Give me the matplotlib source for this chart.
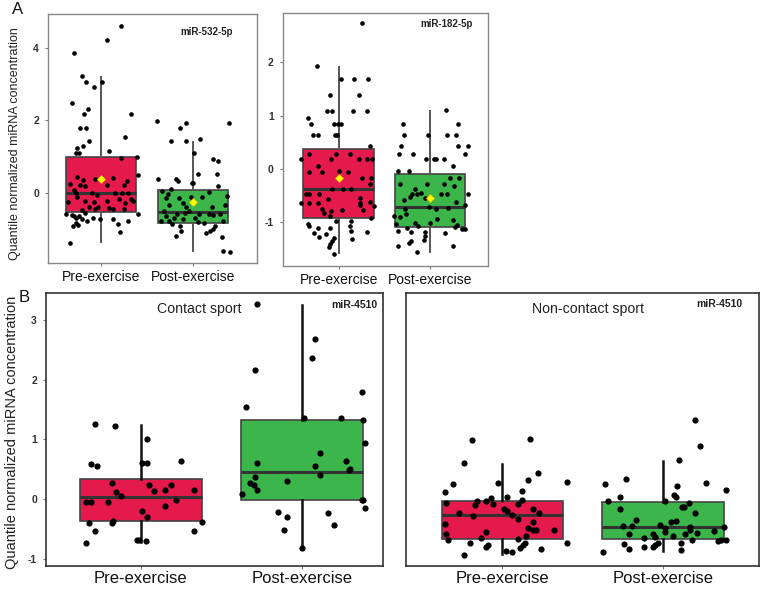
import numpy as np
import matplotlib.pyplot as plt

plt.rcParams['font.family'] = ['Liberation Sans', 'DejaVu Sans']

groups = ['Pre-exercise', 'Post-exercise']
RED = '#e31a4b'
GREEN = '#3cb54a'
YLABEL = 'Quantile normalized miRNA concentration'

# box stats: (whislo, q1, med, q3, whishi, mean)
box_532 = [(-1.37, -0.53, 0.00, 0.98, 3.21, 0.37),
           (-1.63, -0.83, -0.53, 0.07, 1.41, -0.25)]
box_182 = [(-1.58, -0.91, -0.375, 0.37, 1.92, -0.16),
           (-1.56, -1.08, -0.71, -0.09, 1.09, -0.55)]
box_contact = [(-0.715, -0.36, 0.03, 0.335, 1.24, None),
               (-0.80, -0.02, 0.45, 1.32, 3.25, None)]
box_noncontact = [(-0.92, -0.66, -0.27, -0.03, 0.58, None),
                  (-0.87, -0.67, -0.47, -0.055, 0.64, None)]

# jittered points: (horizontal jitter, value)
pts_532_pre = [(0.21, 4.63), (0.06, 4.24), (-0.29, 3.87), (-0.21, 3.22), (-0.16, 3.06),
               (-0.08, 2.92), (0.01, 3.07), (-0.32, 2.47), (0.32, 2.19), (-0.19, 2.19),
               (-0.14, 2.33), (-0.23, 1.79), (-0.16, 1.79), (0.26, 1.55), (-0.13, 1.43),
               (-0.20, 1.29), (-0.26, 1.24), (-0.27, 1.09), (-0.24, 1.09), (0.08, 1.15),
               (0.21, 0.96), (0.39, 0.98), (0.40, 0.48), (-0.26, 0.42), (-0.20, 0.36),
               (-0.07, 0.39), (0.13, 0.40), (0.28, 0.33), (-0.34, 0.24), (-0.23, 0.22),
               (-0.18, 0.18), (0.06, 0.22), (0.25, 0.22), (-0.29, 0.06), (-0.27, 0.00),
               (-0.10, 0.00), (-0.04, -0.08), (0.15, -0.01), (0.23, -0.01), (0.29, -0.01),
               (0.32, -0.19), (0.35, -0.23), (-0.36, -0.25), (-0.18, -0.23), (-0.26, -0.11),
               (0.06, -0.22), (0.19, -0.18), (0.26, -0.28), (-0.13, -0.39), (-0.03, -0.39),
               (0.09, -0.44), (-0.21, -0.47), (-0.07, -0.46), (0.13, -0.45), (0.25, -0.45),
               (-0.38, -0.60), (-0.32, -0.63), (-0.29, -0.66), (-0.27, -0.69), (-0.24, -0.65),
               (-0.21, -0.74), (-0.09, -0.71), (-0.01, -0.72), (0.13, -0.73), (0.29, -0.80),
               (0.40, -0.60), (-0.15, -0.80), (-0.27, -0.83), (-0.25, -0.89), (-0.31, -0.93),
               (0.18, -0.88), (0.20, -1.09), (-0.34, -1.39), (-0.18, -0.57), (-0.08, -0.25)]
pts_532_post = [(-0.39, 1.99), (-0.15, 1.78), (-0.08, 1.92), (0.39, 1.92), (-0.24, 1.43),
                (-0.08, 1.43), (0.07, 1.48), (0.01, 1.09), (0.21, 0.93), (0.27, 0.88),
                (0.05, 0.52), (0.26, 0.52), (-0.38, 0.37), (-0.19, 0.39), (-0.17, 0.32),
                (-0.02, 0.27), (0.00, 0.27), (0.27, 0.18), (-0.34, 0.05), (-0.24, 0.11),
                (-0.30, -0.14), (-0.16, -0.16), (-0.11, -0.30), (-0.08, -0.40), (-0.03, -0.11),
                (0.09, -0.12), (0.17, 0.02), (0.34, -0.35), (0.36, -0.10), (-0.32, -0.50),
                (-0.26, -0.34), (-0.30, -0.65), (-0.18, -0.60), (-0.09, -0.57), (0.02, -0.69),
                (0.06, -0.60), (0.17, -0.60), (0.21, -0.62), (0.29, -0.59), (-0.35, -0.78),
                (-0.26, -0.80), (-0.23, -0.88), (-0.14, -0.92), (-0.11, -0.73), (0.05, -0.82),
                (0.11, -0.85), (0.23, -0.92), (0.32, -0.78), (-0.19, -1.19), (-0.13, -1.07),
                (0.14, -1.12), (0.18, -1.07), (0.21, -1.02), (0.31, -1.24), (0.32, -1.63),
                (0.40, -1.65), (-0.05, -0.51), (-0.21, -0.70), (-0.27, -0.04), (0.20, -0.41)]
pts_182_pre = [(0.26, 2.73), (-0.24, 1.94), (0.02, 1.68), (0.17, 1.68), (0.32, 1.68),
               (-0.09, 1.39), (0.22, 1.39), (-0.13, 1.09), (-0.07, 1.09), (0.16, 1.09),
               (0.31, 1.09), (-0.34, 0.96), (-0.30, 0.84), (-0.05, 0.84), (-0.01, 0.84),
               (0.03, 0.84), (-0.28, 0.64), (-0.23, 0.64), (-0.04, 0.64), (-0.02, 0.64),
               (0.34, 0.44), (-0.41, 0.18), (-0.33, 0.28), (-0.08, 0.18), (-0.03, 0.29),
               (0.12, 0.29), (0.22, 0.18), (0.31, 0.18), (0.37, 0.18), (-0.23, 0.06),
               (-0.32, -0.05), (-0.18, -0.05), (0.00, -0.04), (0.10, -0.05), (0.25, -0.16),
               (0.35, -0.16), (-0.36, -0.46), (-0.33, -0.46), (-0.21, -0.46), (-0.07, -0.38),
               (0.05, -0.38), (0.13, -0.38), (0.34, -0.27), (-0.41, -0.63), (-0.33, -0.63),
               (-0.23, -0.63), (-0.12, -0.56), (0.23, -0.54), (0.23, -0.63), (0.23, -0.68),
               (0.34, -0.62), (0.39, -0.69), (-0.16, -0.83), (-0.08, -0.78), (0.04, -0.76),
               (0.27, -0.77), (0.35, -0.92), (-0.03, -0.98), (0.14, -0.98), (-0.34, -1.02),
               (-0.33, -1.06), (-0.23, -1.11), (-0.27, -1.19), (-0.22, -1.28), (-0.14, -1.22),
               (-0.09, -1.11), (0.12, -1.06), (0.14, -1.16), (0.15, -1.31), (0.31, -1.18),
               (-0.07, -1.34), (-0.09, -1.41), (-0.11, -1.46), (-0.05, -1.30), (-0.05, -1.60),
               (-0.18, -0.74), (-0.09, -0.88)]
pts_182_post = [(0.17, 1.10), (-0.30, 0.84), (0.31, 0.84), (-0.29, 0.64), (-0.02, 0.64),
                (0.19, 0.64), (0.28, 0.64), (-0.32, 0.43), (0.31, 0.43), (0.41, 0.43),
                (-0.34, 0.29), (-0.19, 0.29), (0.38, 0.29), (-0.04, 0.18), (0.04, 0.18),
                (0.07, 0.18), (0.15, 0.18), (0.25, 0.06), (-0.35, -0.04), (-0.23, -0.04),
                (0.22, -0.16), (0.32, -0.16), (-0.33, -0.28), (-0.16, -0.38), (-0.03, -0.28),
                (0.15, -0.28), (0.26, -0.31), (-0.10, -0.44), (-0.22, -0.52), (-0.20, -0.47),
                (-0.14, -0.46), (-0.05, -0.54), (0.12, -0.46), (0.19, -0.46), (0.41, -0.46),
                (-0.28, -0.58), (-0.01, -0.71), (0.20, -0.72), (0.28, -0.62), (0.38, -0.68),
                (-0.39, -0.87), (-0.33, -0.89), (-0.26, -0.85), (-0.16, -1.01), (0.00, -1.01),
                (0.08, -0.93), (0.25, -0.96), (0.30, -1.04), (0.35, -1.12), (0.38, -1.12),
                (0.27, -1.09), (-0.37, -1.03), (-0.35, -1.16), (-0.25, -1.11), (-0.21, -1.18),
                (-0.05, -1.18), (0.16, -1.20), (-0.23, -1.39), (-0.21, -1.35), (-0.07, -1.32),
                (-0.05, -1.26), (-0.35, -1.45), (-0.14, -1.56), (0.25, -1.45), (-0.13, -1.06),
                (0.07, -0.74), (-0.27, -0.74)]
pts_contact_pre = [(-0.28, 1.25), (-0.16, 1.22), (0.04, 1.01), (-0.31, 0.59), (-0.27, 0.55),
                   (0.01, 0.61), (0.04, 0.61), (0.25, 0.64), (-0.18, 0.27), (-0.15, 0.12),
                   (-0.12, 0.06), (0.05, 0.24), (0.08, 0.13), (0.15, 0.15), (0.19, 0.23),
                   (0.33, 0.15), (0.22, -0.01), (-0.34, -0.05), (-0.31, -0.05), (-0.20, -0.05),
                   (0.15, -0.11), (0.01, -0.20), (0.04, -0.30), (-0.32, -0.40), (-0.18, -0.40),
                   (-0.17, -0.36), (0.38, -0.39), (-0.28, -0.54), (0.33, -0.54), (-0.02, -0.68),
                   (-0.01, -0.68), (0.03, -0.70), (-0.34, -0.73)]
pts_contact_post = [(-0.28, 3.26), (0.08, 2.68), (0.06, 2.37), (-0.29, 2.16), (0.37, 1.79),
                    (-0.35, 1.54), (0.01, 1.36), (0.24, 1.36), (0.38, 1.32), (0.39, 0.94),
                    (0.11, 0.77), (0.08, 0.56), (0.11, 0.41), (0.27, 0.63), (0.29, 0.48),
                    (0.30, 0.50), (-0.28, 0.60), (-0.29, 0.37), (-0.32, 0.27), (-0.30, 0.23),
                    (-0.28, 0.16), (-0.09, 0.30), (-0.37, 0.09), (0.37, -0.01), (0.39, -0.15),
                    (-0.15, -0.21), (-0.09, -0.30), (-0.11, -0.52), (0.16, -0.24), (0.20, -0.44),
                    (0.00, -0.81), (0.38, -0.02)]
pts_noncontact_pre = [(-0.19, 0.98), (0.17, 1.01), (-0.24, 0.60), (0.22, 0.43), (-0.31, 0.26),
                      (-0.03, 0.27), (0.16, 0.32), (0.40, 0.28), (-0.36, 0.11), (0.12, 0.13),
                      (0.03, 0.03), (-0.16, -0.03), (-0.10, -0.03), (-0.07, 0.01), (0.12, -0.02),
                      (-0.35, -0.07), (-0.17, -0.10), (-0.06, -0.09), (0.10, -0.09), (0.01, -0.17),
                      (0.03, -0.20), (0.06, -0.27), (0.19, -0.17), (0.23, -0.24), (-0.27, -0.24),
                      (-0.18, -0.28), (0.10, -0.34), (0.19, -0.39), (-0.36, -0.42), (0.19, -0.52),
                      (0.21, -0.52), (0.32, -0.51), (0.16, -0.49), (-0.35, -0.58), (-0.10, -0.55),
                      (-0.34, -0.69), (-0.13, -0.65), (0.10, -0.66), (0.15, -0.62), (0.14, -0.73),
                      (-0.20, -0.73), (-0.10, -0.80), (-0.09, -0.76), (0.11, -0.82), (0.24, -0.84),
                      (0.40, -0.74), (-0.24, -0.93), (0.02, -0.87), (0.06, -0.88), (0.13, -0.76)]
pts_noncontact_post = [(0.20, 1.32), (0.23, 0.88), (0.10, 0.65), (-0.23, 0.34), (-0.36, 0.26),
                       (0.27, 0.27), (0.09, 0.21), (0.39, 0.15), (-0.27, 0.04), (0.07, 0.06),
                       (0.08, 0.03), (-0.34, -0.04), (0.01, -0.04), (0.16, -0.07), (0.12, -0.14),
                       (0.13, -0.14), (-0.27, -0.17), (0.20, -0.23), (-0.17, -0.35), (-0.19, -0.45),
                       (-0.25, -0.45), (-0.02, -0.44), (0.05, -0.39), (0.08, -0.36), (0.01, -0.48),
                       (0.17, -0.47), (0.17, -0.52), (0.38, -0.47), (-0.21, -0.59), (-0.06, -0.59),
                       (0.01, -0.55), (0.06, -0.61), (0.14, -0.59), (0.21, -0.56), (0.32, -0.54),
                       (-0.12, -0.65), (-0.05, -0.64), (0.18, -0.68), (0.34, -0.70), (0.39, -0.69),
                       (0.36, -0.68), (-0.24, -0.75), (-0.03, -0.74), (0.11, -0.74), (-0.21, -0.84),
                       (-0.12, -0.80), (-0.06, -0.80), (-0.05, -0.77), (0.11, -0.85), (-0.37, -0.88)]


def draw_panel(ax, boxes, pts, xlim, ylim, yticks, width, small):
    stats = []
    for (lo, q1, med, q3, hi, mean) in boxes:
        d = dict(whislo=lo, q1=q1, med=med, q3=q3, whishi=hi, fliers=[])
        if mean is not None:
            d['mean'] = mean
        stats.append(d)
    edge = '#444444'
    wcol = '#555555' if small else '#111111'
    bp = ax.bxp(stats, positions=[1, 2], widths=width, patch_artist=True,
                showcaps=False, showfliers=False, showmeans=boxes[0][5] is not None,
                boxprops=dict(edgecolor=edge, linewidth=1.2),
                medianprops=dict(color='#333333', linewidth=2.2),
                whiskerprops=dict(color=wcol, linewidth=1.4 if small else 1.8),
                meanprops=dict(marker='D', markersize=4, markerfacecolor='#ffff00',
                               markeredgecolor='#f2c200', markeredgewidth=0.5),
                manage_ticks=False, zorder=2)
    for patch, c in zip(bp['boxes'], [RED, GREEN]):
        patch.set_facecolor(c)
    for med in bp['medians']:
        med.set_zorder(2.5)
    for i, p in enumerate(pts):
        arr = np.array(p)
        ax.scatter(i + 1 + arr[:, 0], arr[:, 1], s=11 if small else 20,
                   color='black', linewidths=0, zorder=3)
    if boxes[0][5] is not None:
        for m in bp['means']:
            m.set_zorder(4)
    ax.set_xlim(*xlim)
    ax.set_ylim(*ylim)
    ax.set_xticks([1, 2])
    ax.set_xticklabels(groups, fontsize=10 if small else 12, color='#111111')
    ax.set_yticks(yticks)
    ax.set_yticklabels([str(t) for t in yticks], fontsize=7.5, fontweight='bold',
                       color='#333333')
    scol = '#888888' if small else '#333333'
    for s in ax.spines.values():
        s.set_color(scol)
        s.set_linewidth(1.0 if small else 1.2)
    ax.tick_params(axis='both', length=2.5, color='#777777', pad=4)
    ax.tick_params(axis='x', length=2, pad=3 if small else 1.5)


fig = plt.figure(figsize=(7.66, 5.89), dpi=100)
ax1 = fig.add_axes([0.0627, 0.5535, 0.2728, 0.4228])
ax2 = fig.add_axes([0.369, 0.5489, 0.2676, 0.4295])
ax3 = fig.add_axes([0.060, 0.039, 0.4396, 0.4635])
ax4 = fig.add_axes([0.530, 0.039, 0.4612, 0.4640])

draw_panel(ax1, box_532, [pts_532_pre, pts_532_post], (0.424, 2.69), (-1.95, 4.95),
           [0, 2, 4], 0.76, True)
draw_panel(ax2, box_182, [pts_182_pre, pts_182_post], (0.387, 2.63), (-1.81, 2.93),
           [-1, 0, 1, 2], 0.77, True)
draw_panel(ax3, box_contact, [pts_contact_pre, pts_contact_post], (0.413, 2.50),
           (-1.12, 3.45), [-1, 0, 1, 2, 3], 0.755, False)
draw_panel(ax4, box_noncontact, [pts_noncontact_pre, pts_noncontact_post], (0.40, 2.60),
           (-1.12, 3.45), [], 0.755, False)
ax4.tick_params(axis='y', left=False)

ax1.text(0.885, 0.928, 'miR-532-5p', transform=ax1.transAxes, ha='right', va='center',
         fontsize=7, fontweight='bold', color='#222222')
ax2.text(0.928, 0.955, 'miR-182-5p', transform=ax2.transAxes, ha='right', va='center',
         fontsize=7, fontweight='bold', color='#222222')
ax3.text(0.983, 0.956, 'miR-4510', transform=ax3.transAxes, ha='right', va='center',
         fontsize=7.5, fontweight='bold', color='#222222')
ax4.text(0.951, 0.959, 'miR-4510', transform=ax4.transAxes, ha='right', va='center',
         fontsize=7.5, fontweight='bold', color='#222222')
ax3.text(0.454, 0.941, 'Contact sport', transform=ax3.transAxes, ha='center', va='center',
         fontsize=10.2, color='#222222')
ax4.text(0.515, 0.940, 'Non-contact sport', transform=ax4.transAxes, ha='center',
         va='center', fontsize=10.2, color='#222222')

fig.text(15 / 766, 1 - 144 / 589, YLABEL, rotation=90, ha='center', va='center',
         fontsize=9, color='#222222')
fig.text(12 / 766, 1 - 432 / 589, YLABEL, rotation=90, ha='center', va='center',
         fontsize=10.5, color='#222222')
fig.text(17.5 / 766, 1 - 10 / 589, 'A', ha='center', va='center', fontsize=12,
         color='#111111')
fig.text(24 / 766, 1 - 298 / 589, 'B', ha='center', va='center', fontsize=12,
         color='#111111')

fig.savefig('out.png', dpi=100)
